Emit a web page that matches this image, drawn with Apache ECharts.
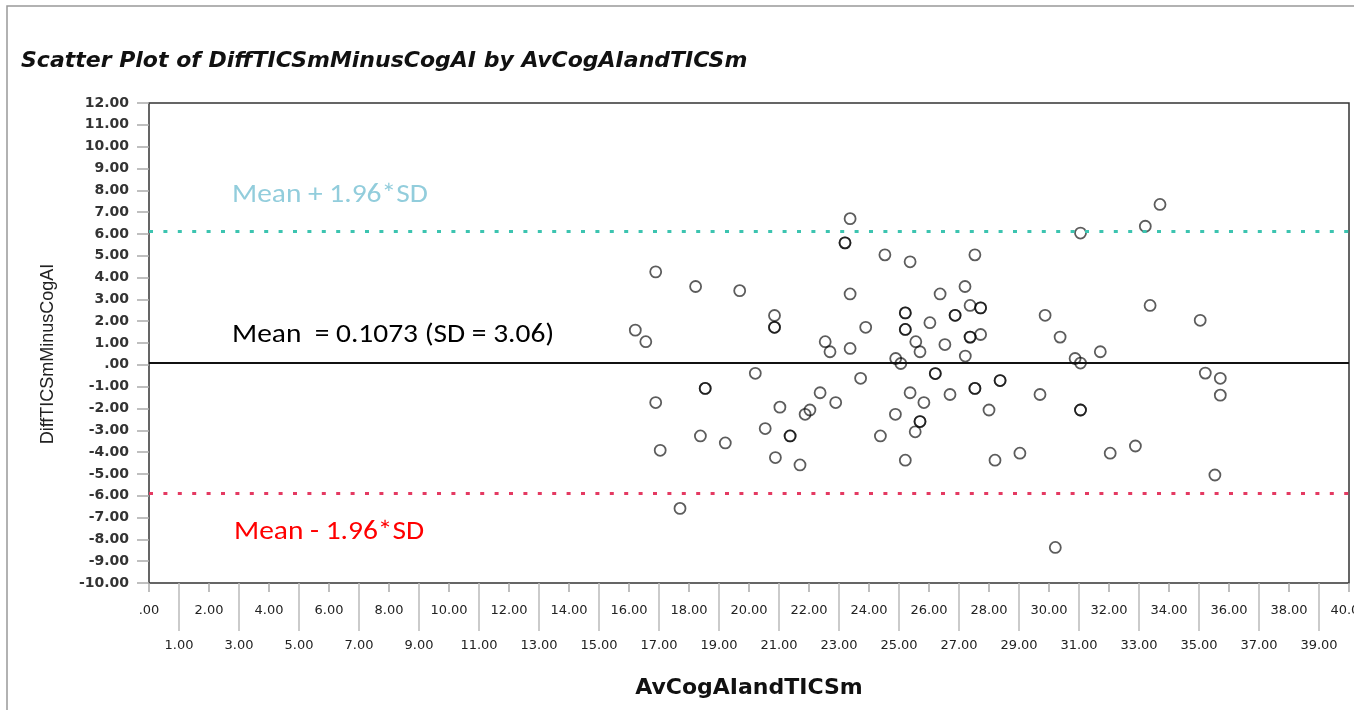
<!DOCTYPE html>
<html><head><meta charset="utf-8">
<script src="https://cdn.jsdelivr.net/npm/echarts@6/dist/echarts.min.js"></script>
<style>html,body{margin:0;padding:0;background:#fff}#c{width:1354px;height:710px}</style>
</head><body><div id="c"></div>
<script>
// Data
const avCogAIandTICSm = [16.21,16.56,16.89,16.89,17.04,17.70,18.22,18.38,18.54,18.54,19.21,19.69,20.21,20.54,20.85,20.85,20.85,20.88,21.03,21.37,21.37,21.70,21.87,22.03,22.37,22.54,22.70,22.89,23.20,23.20,23.37,23.37,23.37,23.72,23.89,24.38,24.53,24.88,24.89,25.06,25.21,25.21,25.21,25.21,25.21,25.37,25.37,25.54,25.56,25.70,25.70,25.70,25.83,26.03,26.21,26.21,26.37,26.53,26.70,26.87,26.87,27.20,27.21,27.37,27.37,27.37,27.53,27.53,27.53,27.72,27.72,27.72,28.00,28.20,28.37,28.37,29.03,29.70,29.87,30.21,30.37,30.87,31.05,31.05,31.05,31.05,31.71,32.04,32.88,33.21,33.37,33.70,35.04,35.21,35.53,35.71,35.71];
const diffTICSmMinusCogAI = [1.59,1.06,4.26,-1.73,-3.92,-6.58,3.59,-3.26,-1.08,-1.08,-3.58,3.40,-0.39,-2.92,2.26,1.72,1.72,-4.25,-1.94,-3.26,-3.26,-4.59,-2.27,-2.07,-1.28,1.06,0.60,-1.73,5.59,5.59,6.70,3.25,0.75,-0.62,1.72,-3.26,5.04,-2.27,0.29,0.06,2.38,2.38,1.62,1.62,-4.37,4.72,-1.28,-3.07,1.06,0.60,-2.60,-2.60,-1.73,1.93,-0.40,-0.40,3.25,0.93,-1.36,2.27,2.27,3.59,0.40,2.72,1.27,1.27,5.04,-1.08,-1.08,2.61,2.61,1.39,-2.07,-4.37,-0.72,-0.72,-4.05,-1.36,2.27,-8.37,1.27,0.29,6.04,0.08,-2.07,-2.07,0.60,-4.05,-3.72,6.35,2.72,7.35,2.04,-0.38,-5.05,-0.62,-1.39];
const evenTicks = [0,2,4,6,8,10,12,14,16,18,20,22,24,26,28,30,32,34,36,38,40];
const oddTicks = [1,3,5,7,9,11,13,15,17,19,21,23,25,27,29,31,33,35,37,39];
const meanValue = 0.1073;
const upperLimit = 6.1;
const lowerLimit = -5.9;
const titleText = 'Scatter Plot of DiffTICSmMinusCogAI by AvCogAIandTICSm';
const upperText = 'Mean + 1.96*SD';
const meanText = 'Mean  = 0.1073 (SD = 3.06)';
const lowerText = 'Mean - 1.96*SD';

function fmt(v){
  let s = Math.abs(v).toFixed(2);
  if (Math.abs(v) < 1) s = s.replace(/^0/, '');
  return (v < 0 ? '-' : '') + s;
}
const points = avCogAIandTICSm.map((x,i)=>[x, diffTICSmMinusCogAI[i]]);

const chart = echarts.init(document.getElementById('c'), null, {renderer:'canvas'});
const annFont = 'Carlito, Lato, "Open Sans", sans-serif';
const tickFont = '"DejaVu Sans", "Liberation Sans", Arial, sans-serif';
chart.setOption({
  backgroundColor:'#fff',
  animation:false,
  title:{text:titleText,left:16,top:45,textStyle:{fontFamily:'"DejaVu Sans", sans-serif',fontSize:22,fontWeight:'bold',fontStyle:'italic',color:'#111'}},
  grid:{left:149,right:5,top:103,bottom:127,show:true,borderColor:'#333',borderWidth:1.5,backgroundColor:'transparent',containLabel:false,outerBoundsMode:'none'},
  xAxis:[{
    type:'value',min:0,max:40,interval:2,position:'bottom',
    name:'AvCogAIandTICSm',nameLocation:'middle',nameGap:94,
    nameTextStyle:{fontFamily:'"DejaVu Sans", sans-serif',fontSize:22,fontWeight:'bold',color:'#111'},
    axisLine:{show:false,onZero:false},
    axisTick:{show:true,length:9,lineStyle:{color:'#aaa',width:1.5}},
    axisLabel:{margin:21,fontSize:13,color:'#222',fontFamily:tickFont,formatter:fmt,showMaxLabel:true,showMinLabel:true,hideOverlap:false},
    splitLine:{show:false}
  },{
    type:'value',min:0,max:40,interval:1,position:'bottom',
    axisLine:{show:false,onZero:false},
    axisTick:{show:true,length:48,customValues:oddTicks,lineStyle:{color:'#bbb',width:1.5}},
    axisLabel:{margin:56,fontSize:13,color:'#222',fontFamily:tickFont,formatter:fmt,customValues:oddTicks,hideOverlap:false},
    splitLine:{show:false}
  }],
  yAxis:{
    type:'value',min:-10,max:12,interval:1,
    name:'DiffTICSmMinusCogAI',nameLocation:'middle',nameGap:92,nameRotate:90,
    nameTextStyle:{fontFamily:'"Liberation Sans", Arial, sans-serif',fontSize:18,color:'#222',padding:[0,22,0,0]},
    axisLine:{show:false,onZero:false},
    axisTick:{show:true,length:12,lineStyle:{color:'#aaa',width:1.5}},
    axisLabel:{margin:20,fontSize:14,fontWeight:'bold',color:'#333',fontFamily:tickFont,formatter:fmt},
    splitLine:{show:false}
  },
  series:[{
    type:'scatter',xAxisIndex:0,yAxisIndex:0,
    data:points,symbol:'circle',symbolSize:11,
    itemStyle:{color:'rgba(255,255,255,0)',borderColor:'rgba(0,0,0,0.8)',borderWidth:1.8},
    markLine:{
      silent:true,symbol:'none',animation:false,label:{show:false},
      data:[
        {yAxis:upperLimit,lineStyle:{color:'#3cc4b0',width:2.8,type:[4,10.4],cap:'butt'}},
        {yAxis:meanValue,lineStyle:{color:'#111',width:2,type:'solid'}},
        {yAxis:lowerLimit,lineStyle:{color:'#e43a62',width:2.8,type:[4,10.4],cap:'butt'}}
      ]
    }
  }],
  graphic:[
    {type:'rect',shape:{x:7,y:6,width:1400,height:800},style:{fill:'none',stroke:'#999',lineWidth:1.5},silent:true,z:-1},
    {type:'text',x:232,y:182,scaleX:1.09,style:{text:upperText,fill:'#92cddc',font:'27px '+annFont}},
    {type:'text',x:232,y:322,scaleX:1.09,style:{text:meanText,fill:'#000',font:'27px '+annFont}},
    {type:'text',x:234,y:519,scaleX:1.09,style:{text:lowerText,fill:'#ff0000',font:'27px '+annFont}}
  ]
});
</script></body></html>
